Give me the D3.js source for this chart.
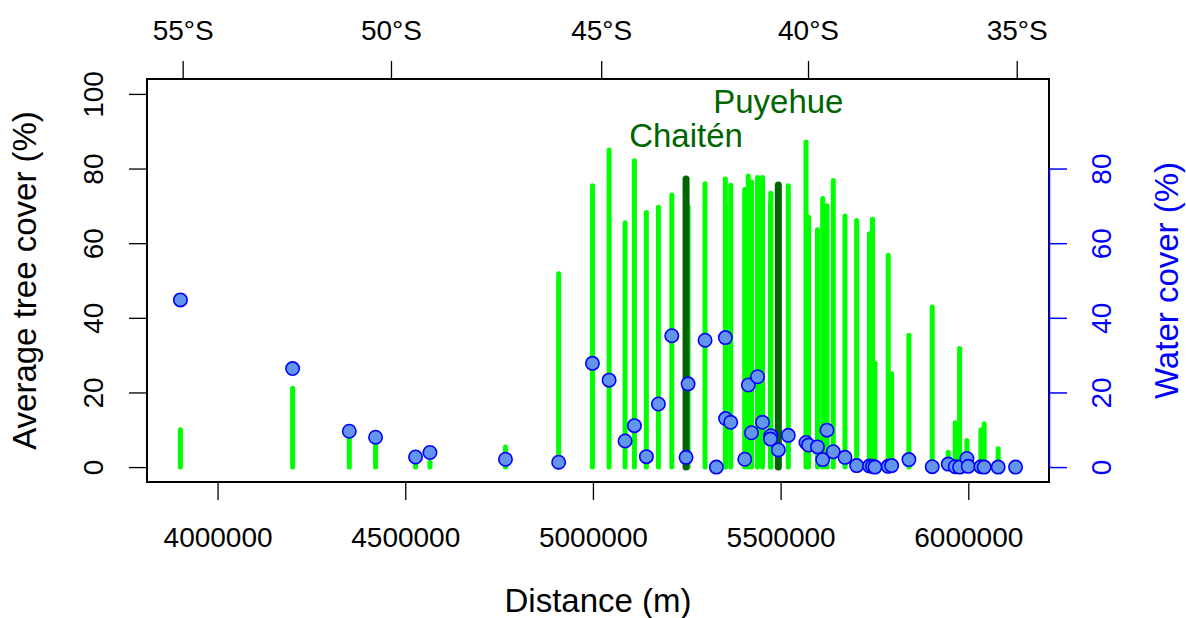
<!DOCTYPE html>
<html>
<head>
<meta charset="utf-8">
<script src="https://cdn.jsdelivr.net/npm/d3@7"></script>
<style>
  body { margin: 0; background: #fff; }
  svg { display: block; font-family: "Liberation Sans", Arial, Helvetica, sans-serif; }
</style>
</head>
<body>
<div id="chart"></div>
<script>
// sites along the transect: distance (m), tree cover (%), water cover (%)
const distance = [3901000, 4199900, 4350900, 4420900, 4527400, 4565800, 4767000, 4908700,
  4998700, 5043100, 5085700, 5110500, 5142400, 5174400, 5210100, 5253500, 5298700, 5328800,
  5352800, 5353300, 5367100, 5404400, 5414000, 5422500, 5438500, 5451800, 5473600, 5473100,
  5520500, 5567600, 5574300, 5598200, 5612100, 5623500, 5640300, 5671500, 5702600, 5736700,
  5744700, 5751300, 5786700, 5795800, 5841800, 5903900, 5946500, 5965100, 5976800, 5996300,
  5999700, 6033500, 6042300, 6079600, 6125900];
const treeCover = [10, 21.1, 9, 7, 1.8, 1.3, 5.4, 51.8,
  75.4, 85.0, 65.5, 82.1, 68.2, 69.6, 72.9, 69.8, 75.9, 0,
  77.2, 70, 75.5, 74.4, 78.0, 76.4, 77.6, 77.6, 73.4, 70.6,
  75.4, 87.1, 67.0, 63.6, 72.0, 70.0, 76.8, 67.3, 66.1, 62.5,
  66.4, 27.8, 56.8, 25.0, 35.3, 42.9, 4.0, 11.9, 31.8, 7.1,
  3, 10.0, 11.6, 4.9, 0];
const waterCover = [44.8, 26.4, 9.6, 8.0, 2.7, 3.9, 2.1, 1.3,
  27.8, 23.3, 7.0, 11.1, 2.8, 16.9, 35.2, 22.3, 34.0, 0,
  34.7, 13.0, 12.0, 2.1, 22.0, 9.2, 24.2, 12.0, 8.4, 7.5,
  8.5, 6.6, 5.9, 5.4, 2.0, 9.9, 4.1, 2.6, 0.4, 0.3,
  0.2, 0, 0.2, 0.4, 2.0, 0.1, 0.8, 0.1, 0, 2.3,
  0.2, 0.1, 0, 0, 0];

// sites next to the volcanoes (highlighted)
const volcanoName = ["Chaitén", "Puyehue"];
const volcanoDist = [5248100, 5493900];
const volcanoTree = [77.2, 75.6];
const volcanoWater = [2.6, 4.6];
const volcanoLabelY = [89, 98];

// axes
const xTicks = [4000000, 4500000, 5000000, 5500000, 6000000];
const treeTicks = [0, 20, 40, 60, 80, 100];
const waterTicks = [0, 20, 40, 60, 80];
const latLabels = ["55°S", "50°S", "45°S", "40°S", "35°S"];
const latTickDist = [3907000, 4462000, 5022000, 5573000, 6129000];

const width = 1186, height = 618;
const box = {left: 147, right: 1049, top: 79, bottom: 482};

const svg = d3.select("#chart").append("svg")
  .attr("width", width).attr("height", height);

const x = d3.scaleLinear().domain([3812000, 6215000]).range([box.left, box.right]);
const y = d3.scaleLinear().domain([-4, 104]).range([box.bottom, box.top]);
const yWater = d3.scaleLinear().domain([-4, 104]).range([box.bottom, box.top]);

const sites = distance.map((d, i) => ({d, tree: treeCover[i], water: waterCover[i]}));
const volc = volcanoName.map((n, i) => ({name: n, d: volcanoDist[i], tree: volcanoTree[i],
  water: volcanoWater[i], ly: volcanoLabelY[i]}));

// tree cover as vertical lines
svg.append("g").selectAll("line")
  .data(sites.filter(s => s.tree > 0))
  .join("line")
    .attr("x1", s => x(s.d)).attr("x2", s => x(s.d))
    .attr("y1", y(0)).attr("y2", s => y(s.tree))
    .attr("stroke", "#00ff00").attr("stroke-width", 5)
    .attr("stroke-linecap", "round");

svg.append("g").selectAll("line")
  .data(volc)
  .join("line")
    .attr("x1", v => x(v.d)).attr("x2", v => x(v.d))
    .attr("y1", y(0)).attr("y2", v => y(v.tree))
    .attr("stroke", "#006400").attr("stroke-width", 7)
    .attr("stroke-linecap", "round");

// water cover points
const allPts = sites.concat(volc);
svg.append("g").selectAll("circle")
  .data(allPts)
  .join("circle")
    .attr("cx", s => x(s.d)).attr("cy", s => yWater(s.water))
    .attr("r", 6.7)
    .attr("fill", "#6495ed").attr("stroke", "#0000ff").attr("stroke-width", 1.6);

// volcano labels
svg.append("g").selectAll("text")
  .data(volc)
  .join("text")
    .attr("x", v => x(v.d)).attr("y", v => y(v.ly))
    .attr("dy", "0.35em")
    .attr("text-anchor", "middle")
    .attr("fill", "#006400")
    .style("font-size", "33px")
    .text(v => v.name);

// box
svg.append("rect")
  .attr("x", box.left).attr("y", box.top)
  .attr("width", box.right - box.left).attr("height", box.bottom - box.top)
  .attr("fill", "none").attr("stroke", "#000").attr("stroke-width", 2);

const tickLen = 18;

// bottom axis
const gx = svg.append("g")
  .attr("transform", `translate(0,${box.bottom})`)
  .call(d3.axisBottom(x).tickValues(xTicks).tickFormat(d3.format("d"))
    .tickSize(tickLen).tickSizeOuter(0));
gx.select(".domain").remove();
gx.selectAll("text").attr("y", 65).attr("dy", null).style("font-size", "28px").attr("fill", "#000");

// top axis (latitude)
const gTop = svg.append("g")
  .attr("transform", `translate(0,${box.top})`)
  .call(d3.axisTop(x).tickValues(latTickDist).tickFormat((d, i) => latLabels[i])
    .tickSize(tickLen).tickSizeOuter(0));
gTop.select(".domain").remove();
gTop.selectAll("text").attr("y", -39).attr("dy", null).style("font-size", "28px").attr("fill", "#000");

// left axis
const gy = svg.append("g")
  .attr("transform", `translate(${box.left},0)`)
  .call(d3.axisLeft(y).tickValues(treeTicks).tickSize(tickLen).tickSizeOuter(0));
gy.select(".domain").remove();
gy.selectAll("text")
  .attr("transform", "rotate(-90)")
  .attr("x", 0).attr("y", -44).attr("dy", null)
  .attr("text-anchor", "middle")
  .style("font-size", "28px").attr("fill", "#000");

// right axis (water, blue)
const gw = svg.append("g")
  .attr("transform", `translate(${box.right},0)`)
  .call(d3.axisRight(yWater).tickValues(waterTicks).tickSize(tickLen).tickSizeOuter(0));
gw.select(".domain").attr("stroke", "#0000ff").attr("stroke-width", 1.5)
  .attr("d", `M0.5,${yWater(0)}V${yWater(80)}`);
gw.selectAll(".tick line").attr("stroke", "#0000ff").attr("stroke-width", 1.5);
gw.selectAll("text")
  .attr("transform", "rotate(-90)")
  .attr("x", 0).attr("y", 62).attr("dy", null)
  .attr("text-anchor", "middle")
  .style("font-size", "28px").attr("fill", "#0000ff");

svg.selectAll(".tick line").filter(function() { return !this.getAttribute("stroke") || this.getAttribute("stroke") === "currentColor"; })
  .attr("stroke", "#000").attr("stroke-width", 1.3);

// axis titles
svg.append("text")
  .attr("x", (box.left + box.right) / 2).attr("y", 612)
  .attr("text-anchor", "middle")
  .style("font-size", "33px")
  .text("Distance (m)");

svg.append("text")
  .attr("transform", `translate(36,${(box.top + box.bottom) / 2}) rotate(-90)`)
  .attr("text-anchor", "middle")
  .style("font-size", "33px")
  .text("Average tree cover (%)");

svg.append("text")
  .attr("transform", `translate(1178,${(box.top + box.bottom) / 2}) rotate(-90)`)
  .attr("text-anchor", "middle")
  .attr("fill", "#0000ff")
  .style("font-size", "33px")
  .text("Water cover (%)");
</script>
</body>
</html>
